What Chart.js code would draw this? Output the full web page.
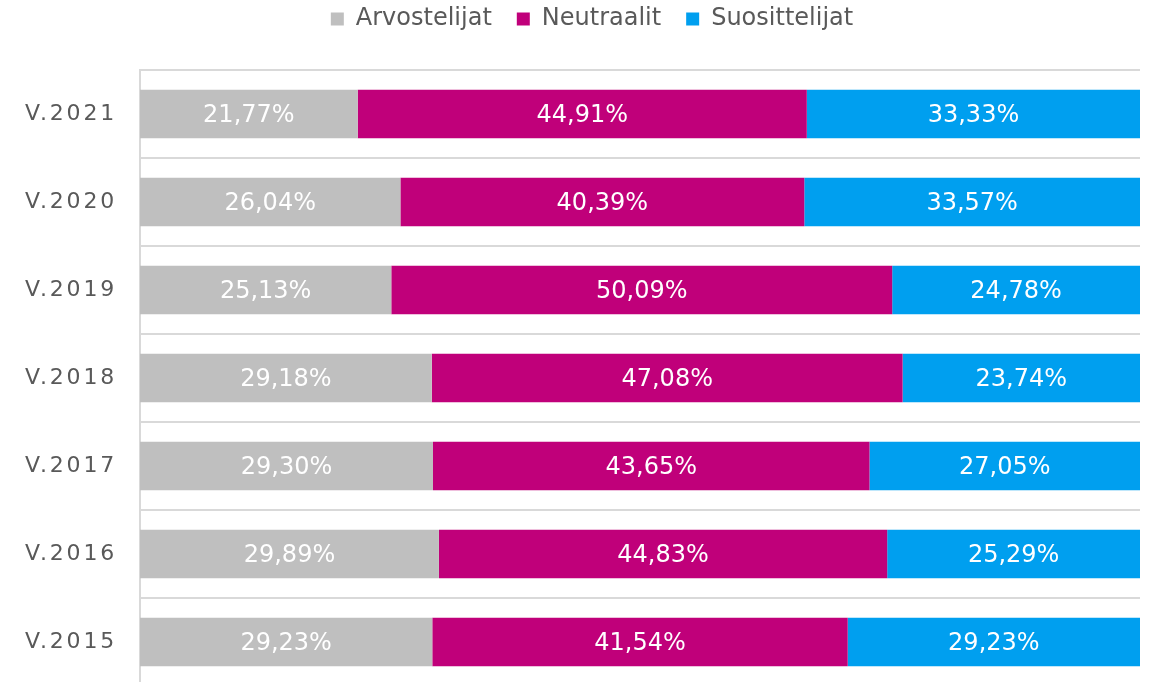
<!DOCTYPE html>
<html>
<head>
<meta charset="utf-8">
<script src="https://cdn.jsdelivr.net/npm/chart.js@4"></script>
<style>
  html, body { margin: 0; padding: 0; background: #fff; overflow: hidden; }
  #wrap { width: 1153px; height: 682px; overflow: hidden; }
</style>
</head>
<body>
<div id="wrap"><canvas id="npsChart" width="1153" height="697"></canvas></div>
<script>
// vuodet ylhäältä alas
const vuodet = ['V.2021', 'V.2020', 'V.2019', 'V.2018', 'V.2017', 'V.2016', 'V.2015'];
const arvostelijat = [21.77, 26.04, 25.13, 29.18, 29.30, 29.89, 29.23];
const neutraalit = [44.91, 40.39, 50.09, 47.08, 43.65, 44.83, 41.54];
const suosittelijat = [33.33, 33.57, 24.78, 23.74, 27.05, 25.29, 29.23];

const fontFamily = '"DejaVu Sans", Verdana, sans-serif';

// prosenttiluvut palkkien keskelle
const barLabels = {
    id: 'barLabels',
    afterDatasetsDraw(chart) {
        const ctx = chart.ctx;
        ctx.save();
        ctx.font = '24px ' + fontFamily;
        ctx.fillStyle = '#ffffff';
        ctx.textAlign = 'center';
        ctx.textBaseline = 'middle';
        chart.data.datasets.forEach((ds, i) => {
            chart.getDatasetMeta(i).data.forEach((bar, j) => {
                const p = bar.getProps(['x', 'base', 'y']);
                const txt = ds.data[j].toFixed(2).replace('.', ',') + '%';
                ctx.fillText(txt, (p.x + p.base) / 2, p.y + 2);
            });
        });
        ctx.restore();
    }
};

// harvennettu kirjainväli y-akselin nimiöihin + selitteen siirto
const tweaks = {
    id: 'tweaks',
    afterUpdate(chart) {
        const sc = chart.scales.y;
        if (!sc || sc._spaced) return;
        const orig = sc.drawLabels;
        sc.drawLabels = function (area) {
            const ctx = this.ctx;
            const prev = ctx.letterSpacing;
            ctx.letterSpacing = '2.8px';
            orig.call(this, area);
            ctx.letterSpacing = prev || '0px';
        };
        sc._spaced = true;
    },
    afterLayout(chart) {
        const lg = chart.legend;
        if (!lg) return;
        lg.top -= 29;
        lg.bottom -= 29;
        lg.left += 22;
        lg.right += 22;
    }
};

new Chart(document.getElementById('npsChart'), {
    type: 'bar',
    data: {
        labels: vuodet,
        datasets: [
            { label: 'Arvostelijat', data: arvostelijat, backgroundColor: '#bfbfbf' },
            { label: 'Neutraalit', data: neutraalit, backgroundColor: '#c0007a' },
            { label: 'Suosittelijat', data: suosittelijat, backgroundColor: '#009fef' }
        ]
    },
    options: {
        indexAxis: 'y',
        responsive: false,
        animation: false,
        devicePixelRatio: 1,
        layout: { padding: { top: 11, right: 13, bottom: 0, left: 0 } },
        datasets: {
            bar: { categoryPercentage: 1, barPercentage: 0.55, borderWidth: 0 }
        },
        scales: {
            x: {
                stacked: true,
                min: 0,
                max: 100,
                display: false
            },
            y: {
                stacked: true,
                afterFit(scale) { scale.width = 140; },
                grid: {
                    offset: true,
                    color: '#d9d9d9',
                    lineWidth: 2,
                    drawTicks: true,
                    tickLength: 23,
                    tickColor: 'rgba(0,0,0,0)'
                },
                border: { display: true, color: '#d9d9d9', width: 2 },
                ticks: {
                    color: '#595959',
                    font: { family: fontFamily, size: 22, lineHeight: 1 },
                    padding: 0
                }
            }
        },
        plugins: {
            tooltip: { enabled: false },
            legend: {
                position: 'top',
                labels: {
                    boxWidth: 13,
                    boxHeight: 13,
                    padding: 25,
                    color: '#595959',
                    font: { family: fontFamily, size: 24 }
                }
            }
        }
    },
    plugins: [barLabels, tweaks]
});
</script>
</body>
</html>
